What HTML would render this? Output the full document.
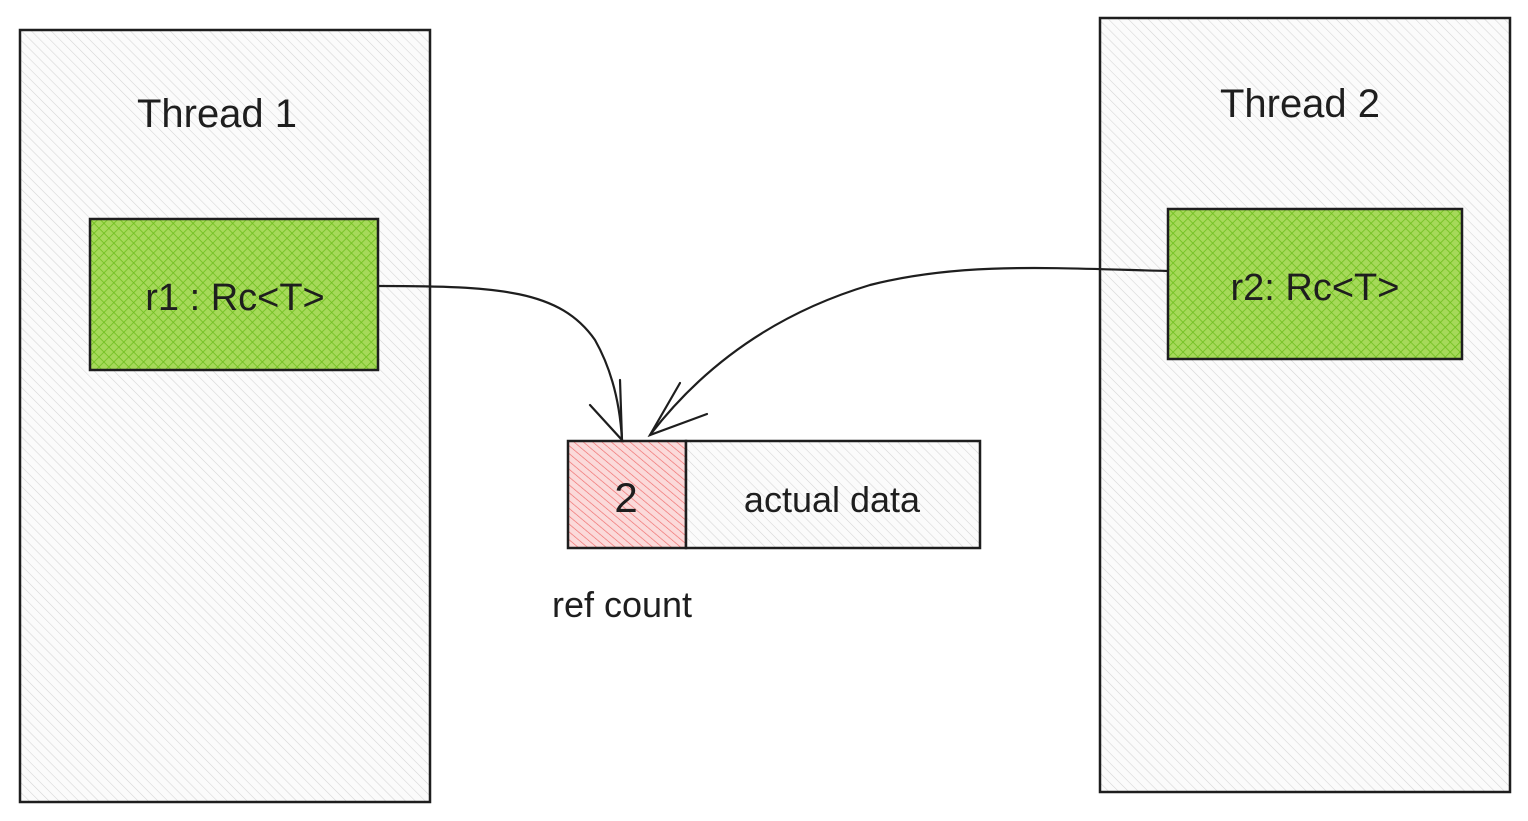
<!DOCTYPE html>
<html><head><meta charset="utf-8"><style>
html,body{margin:0;padding:0;background:#fff;}
svg{display:block}
text{font-family:"Comic Sans MS","Liberation Sans",sans-serif;fill:#1e1e1e}
</style></head><body>
<svg width="1528" height="821" viewBox="0 0 1528 821" xmlns="http://www.w3.org/2000/svg">
<defs>
<pattern id="gray" width="7" height="7" patternUnits="userSpaceOnUse" patternTransform="rotate(-45)">
<rect width="7" height="7" fill="#fbfbfb"/>
<line x1="0" y1="0" x2="0" y2="7" stroke="#d4d4d4" stroke-width="1.1"/>
</pattern>
<pattern id="green" width="7" height="7" patternUnits="userSpaceOnUse" patternTransform="rotate(45)">
<rect width="7" height="7" fill="#a6d95a"/>
<line x1="0" y1="0" x2="0" y2="7" stroke="#6fbf1e" stroke-width="1.6"/>
<line x1="0" y1="0" x2="7" y2="0" stroke="#6fbf1e" stroke-width="1.6"/>
</pattern>
<pattern id="red" width="6" height="6" patternUnits="userSpaceOnUse" patternTransform="rotate(-50)">
<rect width="6" height="6" fill="#fbdada"/>
<line x1="0" y1="0" x2="0" y2="6" stroke="#f06a6a" stroke-width="1.3"/>
</pattern>
</defs>
<rect x="20" y="30" width="410" height="772" fill="url(#gray)" stroke="#1e1e1e" stroke-width="2.5"/>
<rect x="1100" y="18" width="410" height="774" fill="url(#gray)" stroke="#1e1e1e" stroke-width="2.5"/>
<rect x="90" y="219" width="288" height="151" fill="url(#green)" stroke="#1e1e1e" stroke-width="2.5"/>
<rect x="1168" y="209" width="294" height="150" fill="url(#green)" stroke="#1e1e1e" stroke-width="2.5"/>
<rect x="568" y="441" width="118" height="107" fill="url(#red)" stroke="#1e1e1e" stroke-width="2.5"/>
<rect x="686" y="441" width="294" height="107" fill="url(#gray)" stroke="#1e1e1e" stroke-width="2.5"/>
<text x="217" y="127" font-size="40" text-anchor="middle">Thread 1</text>
<text x="1300" y="117" font-size="40" text-anchor="middle">Thread 2</text>
<text x="235" y="310" font-size="38" text-anchor="middle">r1 : Rc&lt;T&gt;</text>
<text x="1315" y="300" font-size="38" text-anchor="middle">r2: Rc&lt;T&gt;</text>
<text x="626" y="512" font-size="42" text-anchor="middle">2</text>
<text x="832" y="512" font-size="36" text-anchor="middle">actual data</text>
<text x="622" y="617" font-size="36" text-anchor="middle">ref count</text>
<g fill="none" stroke="#1e1e1e" stroke-width="2.2" stroke-linecap="round">
<path d="M378 286 C500 286 560 290 595 340 C612 370 620 405 622 440"/>
<path d="M590 405 L622 440 L620 380"/>
<path d="M1168 271 C1050 268 960 262 870 285 C770 315 700 370 650 435"/>
<path d="M680 383 L650 435 L707 414"/>
</g>
</svg>
</body></html>
